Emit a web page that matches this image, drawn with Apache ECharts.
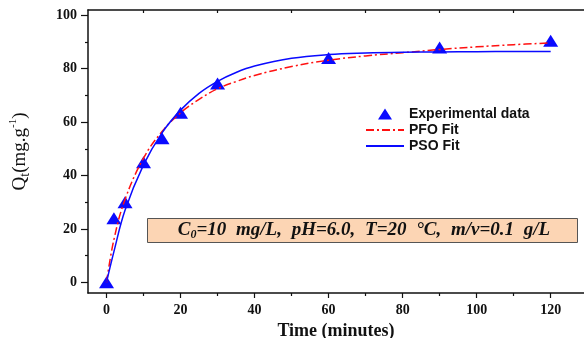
<!DOCTYPE html>
<html>
<head>
<meta charset="utf-8">
<script src="https://cdn.jsdelivr.net/npm/echarts@6/dist/echarts.min.js"></script>
<style>
  html, body { margin: 0; padding: 0; background: #fff; }
  #chart { width: 584px; height: 338px; }
</style>
</head>
<body>
<div id="chart"></div>
<script>
// experimental points
var expTime = [0, 2, 5, 10, 15, 20, 30, 60, 90, 120];
var expQ = [0, 24, 30, 45, 54, 63.5, 74.5, 84, 88, 90.5];

// fitted curves
var fitTime = [0, 2, 5, 10, 15, 20, 25, 30, 35, 40, 50, 60, 70, 80, 90, 100, 110, 120];
var pfoQ = [0, 16, 31, 46.5, 56.5, 63.5, 68.5, 72.5, 75.2, 77.5, 80.8, 83.2, 84.8, 86, 87.2, 88.2, 89, 89.7];
var psoQ = [0, 11.5, 27, 44, 56, 64.5, 70.8, 75.3, 78.6, 81, 83.9, 85.3, 85.9, 86.2, 86.3, 86.4, 86.5, 86.5];

var xMajor = [0, 20, 40, 60, 80, 100, 120];
var xMinor = [10, 30, 50, 70, 90, 110];
var yMajor = [0, 20, 40, 60, 80, 100];
var yMinor = [10, 30, 50, 70, 90];

function pairs(xs, ys) {
    return xs.map(function (x, i) { return [x, ys[i]]; });
}

var serif = 'Liberation Serif';
var axisColor = '#111';
// triangle centred in a 38x12 box so the legend does not stretch it
var legendTriangle = 'path://M0,0L0.01,0Z M38,12L37.99,12Z M12,11.5L19,0.5L26,11.5Z';

var chart = echarts.init(document.getElementById('chart'));
var option = {
    backgroundColor: '#fff',
    animation: false,
    grid: { left: 88, right: 0, top: 10, bottom: 45, outerBoundsMode: 'none' },
    legend: {
        orient: 'vertical',
        left: 365,
        top: 107,
        padding: 0,
        itemWidth: 38,
        itemHeight: 12,
        itemGap: 2,
        textStyle: { fontFamily: 'Liberation Sans', fontWeight: 'bold', fontSize: 14, color: '#111', lineHeight: 14 },
        data: [
            { name: 'Experimental data', icon: legendTriangle },
            { name: 'PFO Fit', itemStyle: { opacity: 0 } },
            { name: 'PSO Fit', itemStyle: { opacity: 0 } }
        ]
    },
    xAxis: [
        {
            type: 'value', position: 'bottom', min: -5, max: 129,
            name: 'Time (minutes)', nameLocation: 'middle', nameGap: 25,
            nameTextStyle: { fontFamily: serif, fontWeight: 'bold', fontSize: 18, color: '#111' },
            axisLine: { show: true, onZero: false, lineStyle: { color: axisColor, width: 1.5 } },
            axisTick: { show: true, length: 5, customValues: xMajor, lineStyle: { color: axisColor, width: 1.2 } },
            axisLabel: { customValues: xMajor, margin: 10, fontFamily: serif, fontWeight: 'bold', fontSize: 14, color: '#111' },
            splitLine: { show: false }
        },
        {
            type: 'value', position: 'bottom', min: -5, max: 129,
            axisLine: { show: false, onZero: false },
            axisTick: { show: true, length: 3, customValues: xMinor, lineStyle: { color: axisColor, width: 1.2 } },
            axisLabel: { show: false },
            splitLine: { show: false }
        },
        {
            type: 'value', position: 'top', min: -5, max: 129,
            axisLine: { show: true, onZero: false, lineStyle: { color: axisColor, width: 1.5 } },
            axisTick: { show: true, inside: true, length: 3, customValues: xMinor, lineStyle: { color: axisColor, width: 1.2 } },
            axisLabel: { show: false },
            splitLine: { show: false }
        }
    ],
    yAxis: [
        {
            type: 'value', position: 'left', min: -4, max: 102,
            name: '{a|Q}{b|t}{a|(mg.g}{c|-1}{a|)}', nameLocation: 'middle', nameGap: 56,
            nameTextStyle: {
                color: '#111',
                rich: {
                    a: { fontFamily: serif, fontSize: 19, lineHeight: 24, color: '#111' },
                    b: { fontFamily: serif, fontSize: 14, lineHeight: 13, verticalAlign: 'bottom', color: '#111' },
                    c: { fontFamily: serif, fontSize: 11, lineHeight: 11, verticalAlign: 'top', color: '#111' }
                }
            },
            axisLine: { show: true, onZero: false, lineStyle: { color: axisColor, width: 1.5 } },
            axisTick: { show: true, length: 7, customValues: yMajor, lineStyle: { color: axisColor, width: 1.2 } },
            axisLabel: { customValues: yMajor, margin: 11, fontFamily: serif, fontWeight: 'bold', fontSize: 14, color: '#111' },
            splitLine: { show: false }
        },
        {
            type: 'value', position: 'left', min: -4, max: 102,
            axisLine: { show: false, onZero: false },
            axisTick: { show: true, length: 3, customValues: yMinor, lineStyle: { color: axisColor, width: 1.2 } },
            axisLabel: { show: false },
            splitLine: { show: false }
        }
    ],
    series: [
        {
            name: 'Experimental data',
            type: 'scatter',
            symbol: 'triangle',
            symbolSize: [15, 12],
            itemStyle: { color: '#0a0aff', opacity: 1 },
            data: pairs(expTime, expQ),
            z: 2
        },
        {
            name: 'PFO Fit',
            type: 'line',
            symbol: 'none',
            smooth: 0.4,
            lineStyle: { color: '#ff1010', width: 1.5, type: [8, 3, 2, 3] },
            itemStyle: { color: '#ff1010' },
            data: pairs(fitTime, pfoQ),
            z: 3
        },
        {
            name: 'PSO Fit',
            type: 'line',
            symbol: 'none',
            smooth: 0.4,
            lineStyle: { color: '#0a0aff', width: 1.5 },
            itemStyle: { color: '#0a0aff' },
            data: pairs(fitTime, psoQ),
            z: 3
        }
    ],
    graphic: [
        {
            type: 'rect',
            left: 147, top: 218,
            shape: { width: 430, height: 24 },
            style: { fill: '#fcd5b4', stroke: '#555', lineWidth: 1 },
            z: 10
        },
        {
            type: 'text',
            x: 364, y: 230,
            style: {
                text: '{i|C}{s|0}{i|=10}{w| mg/L,}{w| pH=6.0,}{w| T=20}{w| °C,}{w| m/v=0.1}{w| g/L}',
                align: 'center',
                verticalAlign: 'middle',
                rich: {
                    i: { fontFamily: serif, fontStyle: 'italic', fontWeight: 'bold', fontSize: 19, lineHeight: 22, fill: '#111' },
                    w: { fontFamily: serif, fontStyle: 'italic', fontWeight: 'bold', fontSize: 19, lineHeight: 22, padding: [0, 0, 0, 5], fill: '#111' },
                    s: { fontFamily: serif, fontStyle: 'italic', fontWeight: 'bold', fontSize: 12, lineHeight: 12, verticalAlign: 'bottom', fill: '#111' }
                }
            },
            z: 11
        }
    ]
};
chart.setOption(option);
</script>
</body>
</html>
